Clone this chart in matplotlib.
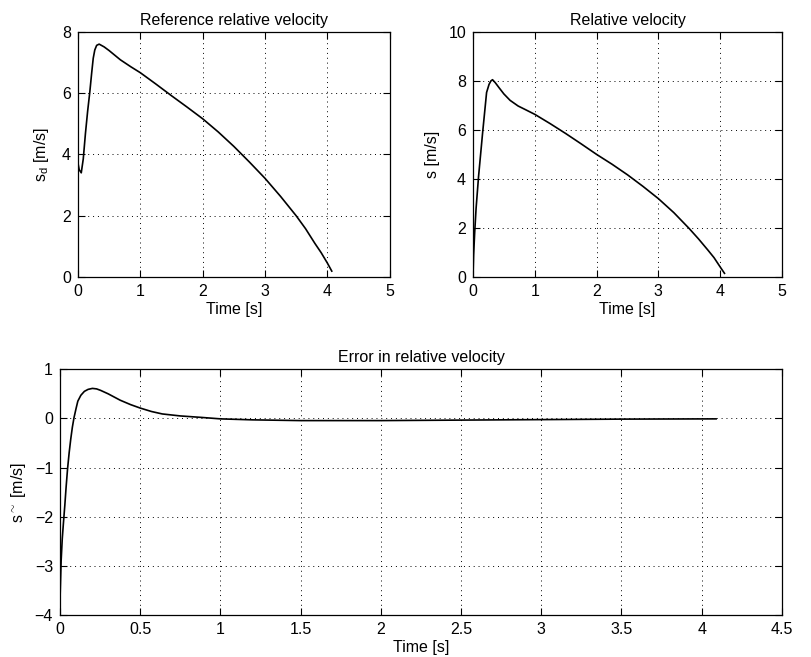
import matplotlib
matplotlib.use("Agg")
import matplotlib.pyplot as plt

plt.rcParams['font.family'] = ['Liberation Sans', 'DejaVu Sans']
plt.rcParams['mathtext.fontset'] = 'custom'
plt.rcParams['mathtext.rm'] = 'Liberation Sans'
plt.rcParams['mathtext.it'] = 'Liberation Sans'
plt.rcParams['font.size'] = 11.5

# reference relative velocity s_d
t_ref = [0.0, 0.02, 0.053, 0.085, 0.12, 0.155, 0.19, 0.22, 0.245, 0.27, 0.3, 0.34, 0.42, 0.5,
         0.68, 0.85, 1.0, 1.25, 1.5, 1.75, 2.0, 2.25, 2.5, 2.75, 3.0, 3.25, 3.5, 3.65, 3.8,
         3.9, 4.0, 4.07]
s_ref = [3.72, 3.5, 3.4, 3.85, 4.68, 5.4, 6.03, 6.65, 7.13, 7.4, 7.55, 7.59, 7.5, 7.38,
         7.08, 6.85, 6.66, 6.29, 5.91, 5.54, 5.16, 4.73, 4.26, 3.75, 3.22, 2.63, 2.0, 1.58, 1.1,
         0.8, 0.46, 0.2]

# actual relative velocity s
t_act = [0.0, 0.01, 0.027, 0.05, 0.09, 0.155, 0.22, 0.26, 0.29, 0.316, 0.36, 0.42, 0.5,
         0.6, 0.73, 0.85, 1.0, 1.25, 1.5, 1.75, 2.0, 2.25, 2.5, 2.75, 3.0, 3.25, 3.5, 3.65,
         3.8, 3.9, 4.0, 4.07]
s_act = [0.0, 0.9, 1.8, 2.8, 4.1, 5.86, 7.52, 7.85, 7.99, 8.04, 7.92, 7.72, 7.46,
         7.2, 6.97, 6.82, 6.63, 6.25, 5.85, 5.43, 5.0, 4.6, 4.17, 3.7, 3.2, 2.63, 1.98, 1.56,
         1.11, 0.8, 0.42, 0.16]

# error in relative velocity
t_err = [0.0, 0.003, 0.007, 0.014, 0.022, 0.03, 0.038, 0.047, 0.057, 0.067, 0.077, 0.087,
         0.1, 0.111, 0.13, 0.152, 0.175, 0.202, 0.228, 0.253, 0.3, 0.375, 0.44, 0.5, 0.57,
         0.638, 0.749, 0.88, 1.0, 1.2, 1.5, 2.0, 2.5, 3.0, 3.5, 4.09]
e_err = [-3.69, -3.35, -2.9, -2.45, -2.1, -1.77, -1.4, -1.03, -0.7, -0.42, -0.18, 0.01,
         0.2, 0.35, 0.47, 0.55, 0.59, 0.61, 0.6, 0.57, 0.5, 0.37, 0.28, 0.21, 0.14,
         0.09, 0.05, 0.02, -0.01, -0.03, -0.045, -0.045, -0.035, -0.025, -0.015, -0.01]

fig = plt.figure(figsize=(8.12, 6.57), dpi=100)
ax1 = fig.add_axes([0.096, 0.578, 0.384, 0.374])
ax2 = fig.add_axes([0.5825, 0.578, 0.3805, 0.374])
ax3 = fig.add_axes([0.0739, 0.064, 0.889, 0.374])


def style(ax):
    ax.grid(True, color='black', linestyle=(0, (1, 4)), linewidth=0.7)
    ax.tick_params(direction='in', top=True, right=True, length=5, width=0.8,
                   labelsize=11.5, pad=5)
    for sp in ax.spines.values():
        sp.set_linewidth(0.9)


ax1.plot(t_ref, s_ref, color='black', linewidth=1.2)
ax1.set_xlim(0, 5)
ax1.set_ylim(0, 8)
ax1.set_xticks([0, 1, 2, 3, 4, 5])
ax1.set_yticks([0, 2, 4, 6, 8])
ax1.set_title('Reference relative velocity', fontsize=11.5, pad=5)
ax1.set_xlabel('Time [s]', labelpad=2)
ax1.set_ylabel(r's$_{\mathregular{d}}$ [m/s]', labelpad=8)
style(ax1)

ax2.plot(t_act, s_act, color='black', linewidth=1.2)
ax2.set_xlim(0, 5)
ax2.set_ylim(0, 10)
ax2.set_xticks([0, 1, 2, 3, 4, 5])
ax2.set_yticks([0, 2, 4, 6, 8, 10])
ax2.set_title('Relative velocity', fontsize=11.5, pad=5)
ax2.set_xlabel('Time [s]', labelpad=2)
ax2.set_ylabel('s [m/s]', labelpad=6)
style(ax2)

ax3.plot(t_err, e_err, color='black', linewidth=1.2)
ax3.set_xlim(0, 4.5)
ax3.set_ylim(-4, 1)
ax3.set_xticks([0, 0.5, 1, 1.5, 2, 2.5, 3, 3.5, 4, 4.5])
ax3.set_xticklabels(['0', '0.5', '1', '1.5', '2', '2.5', '3', '3.5', '4', '4.5'])
ax3.set_yticks([-4, -3, -2, -1, 0, 1])
ax3.set_title('Error in relative velocity', fontsize=11.5, pad=5)
ax3.set_xlabel('Time [s]', labelpad=2)
ax3.set_ylabel(r's$^{\sim}$ [m/s]', labelpad=5)
style(ax3)

fig.savefig('out.png', dpi=100)
